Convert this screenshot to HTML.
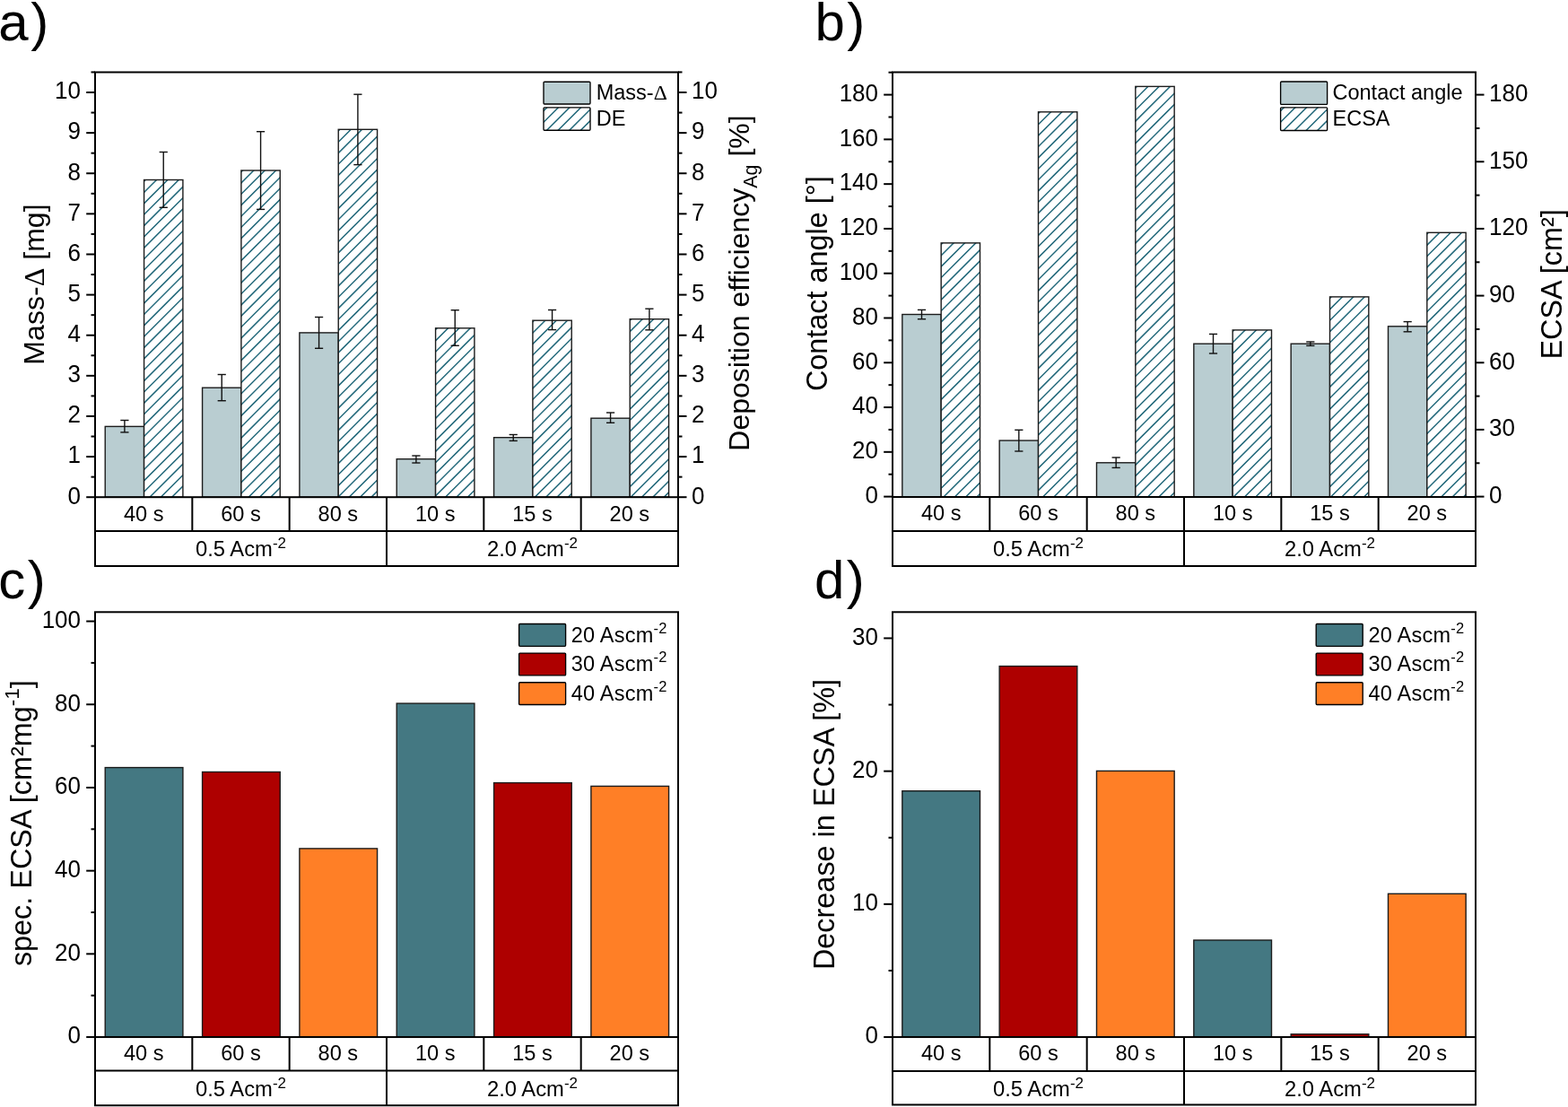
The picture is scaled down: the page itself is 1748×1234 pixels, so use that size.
<!DOCTYPE html>
<html><head><meta charset="utf-8"><title>Figure</title>
<style>
html,body{margin:0;padding:0;background:#fff;}
body{width:1748px;height:1234px;overflow:hidden;}
svg{display:block;}
text{font-family:"Liberation Sans",Arial,sans-serif;}
</style></head><body>
<svg width="1748" height="1234" viewBox="0 0 1748 1234" font-family="Liberation Sans, Arial, sans-serif" fill="#000">
<defs><clipPath id="c1"><rect x="160.57" y="200.5" width="43.33" height="353.7"/></clipPath><clipPath id="c2"><rect x="268.9" y="190" width="43.33" height="364.2"/></clipPath><clipPath id="c3"><rect x="377.23" y="144.3" width="43.33" height="409.9"/></clipPath><clipPath id="c4"><rect x="485.57" y="365.8" width="43.33" height="188.4"/></clipPath><clipPath id="c5"><rect x="593.9" y="357.2" width="43.33" height="197"/></clipPath><clipPath id="c6"><rect x="702.23" y="355.7" width="43.33" height="198.5"/></clipPath><clipPath id="c7"><rect x="1049.17" y="270.86" width="43.33" height="283.14"/></clipPath><clipPath id="c8"><rect x="1157.5" y="124.8" width="43.33" height="429.2"/></clipPath><clipPath id="c9"><rect x="1265.83" y="96.4" width="43.33" height="457.6"/></clipPath><clipPath id="c10"><rect x="1374.17" y="367.9" width="43.33" height="186.1"/></clipPath><clipPath id="c11"><rect x="1482.5" y="330.9" width="43.33" height="223.1"/></clipPath><clipPath id="c12"><rect x="1590.83" y="259.3" width="43.33" height="294.7"/></clipPath><clipPath id="c13"><rect x="606" y="119.9" width="52" height="25.3"/></clipPath><clipPath id="c14"><rect x="1427.6" y="119.8" width="52" height="25.7"/></clipPath></defs>
<rect width="1748" height="1234" fill="#fff"/>
<rect x="117.23" y="475.4" width="43.33" height="78.8" fill="#b9cdd1"/>
<rect x="117.23" y="475.4" width="43.33" height="78.8" fill="none" stroke="#1c1c1c" stroke-width="1.4"/>
<rect x="160.57" y="200.5" width="43.33" height="353.7" fill="#fff"/>
<path clip-path="url(#c1)" d="M-218.25 556.2L205.9 132.05M-205.89 556.2L205.9 144.41M-193.53 556.2L205.9 156.77M-181.17 556.2L205.9 169.13M-168.81 556.2L205.9 181.49M-156.45 556.2L205.9 193.85M-144.09 556.2L205.9 206.21M-131.73 556.2L205.9 218.57M-119.37 556.2L205.9 230.93M-107.01 556.2L205.9 243.29M-94.65 556.2L205.9 255.65M-82.29 556.2L205.9 268.01M-69.93 556.2L205.9 280.37M-57.57 556.2L205.9 292.73M-45.21 556.2L205.9 305.09M-32.85 556.2L205.9 317.45M-20.49 556.2L205.9 329.81M-8.13 556.2L205.9 342.17M4.23 556.2L205.9 354.53M16.59 556.2L205.9 366.89M28.95 556.2L205.9 379.25M41.31 556.2L205.9 391.61M53.67 556.2L205.9 403.97M66.03 556.2L205.9 416.33M78.39 556.2L205.9 428.69M90.75 556.2L205.9 441.05M103.11 556.2L205.9 453.41M115.47 556.2L205.9 465.77M127.83 556.2L205.9 478.13M140.19 556.2L205.9 490.49M152.55 556.2L205.9 502.85M164.91 556.2L205.9 515.21M177.27 556.2L205.9 527.57M189.63 556.2L205.9 539.93M201.99 556.2L205.9 552.29" stroke="#22687a" stroke-width="1.5" fill="none"/>
<rect x="160.57" y="200.5" width="43.33" height="353.7" fill="none" stroke="#1c1c1c" stroke-width="1.4"/>
<line x1="138.9" y1="468.5" x2="138.9" y2="481.9" stroke="#111" stroke-width="1.4" stroke-linecap="butt"/>
<line x1="134.3" y1="468.5" x2="143.5" y2="468.5" stroke="#111" stroke-width="1.4" stroke-linecap="butt"/>
<line x1="134.3" y1="481.9" x2="143.5" y2="481.9" stroke="#111" stroke-width="1.4" stroke-linecap="butt"/>
<line x1="182.23" y1="169.5" x2="182.23" y2="231.3" stroke="#111" stroke-width="1.4" stroke-linecap="butt"/>
<line x1="177.63" y1="169.5" x2="186.83" y2="169.5" stroke="#111" stroke-width="1.4" stroke-linecap="butt"/>
<line x1="177.63" y1="231.3" x2="186.83" y2="231.3" stroke="#111" stroke-width="1.4" stroke-linecap="butt"/>
<rect x="225.57" y="432.2" width="43.33" height="122" fill="#b9cdd1"/>
<rect x="225.57" y="432.2" width="43.33" height="122" fill="none" stroke="#1c1c1c" stroke-width="1.4"/>
<rect x="268.9" y="190" width="43.33" height="364.2" fill="#fff"/>
<path clip-path="url(#c2)" d="M-120.42 556.2L314.23 121.55M-108.06 556.2L314.23 133.91M-95.7 556.2L314.23 146.27M-83.34 556.2L314.23 158.63M-70.98 556.2L314.23 170.99M-58.62 556.2L314.23 183.35M-46.26 556.2L314.23 195.71M-33.9 556.2L314.23 208.07M-21.54 556.2L314.23 220.43M-9.18 556.2L314.23 232.79M3.18 556.2L314.23 245.15M15.54 556.2L314.23 257.51M27.9 556.2L314.23 269.87M40.26 556.2L314.23 282.23M52.62 556.2L314.23 294.59M64.98 556.2L314.23 306.95M77.34 556.2L314.23 319.31M89.7 556.2L314.23 331.67M102.06 556.2L314.23 344.03M114.42 556.2L314.23 356.39M126.78 556.2L314.23 368.75M139.14 556.2L314.23 381.11M151.5 556.2L314.23 393.47M163.86 556.2L314.23 405.83M176.22 556.2L314.23 418.19M188.58 556.2L314.23 430.55M200.94 556.2L314.23 442.91M213.3 556.2L314.23 455.27M225.66 556.2L314.23 467.63M238.02 556.2L314.23 479.99M250.38 556.2L314.23 492.35M262.74 556.2L314.23 504.71M275.1 556.2L314.23 517.07M287.46 556.2L314.23 529.43M299.82 556.2L314.23 541.79M312.18 556.2L314.23 554.15" stroke="#22687a" stroke-width="1.5" fill="none"/>
<rect x="268.9" y="190" width="43.33" height="364.2" fill="none" stroke="#1c1c1c" stroke-width="1.4"/>
<line x1="247.23" y1="417.5" x2="247.23" y2="446.7" stroke="#111" stroke-width="1.4" stroke-linecap="butt"/>
<line x1="242.63" y1="417.5" x2="251.83" y2="417.5" stroke="#111" stroke-width="1.4" stroke-linecap="butt"/>
<line x1="242.63" y1="446.7" x2="251.83" y2="446.7" stroke="#111" stroke-width="1.4" stroke-linecap="butt"/>
<line x1="290.57" y1="146.7" x2="290.57" y2="233.4" stroke="#111" stroke-width="1.4" stroke-linecap="butt"/>
<line x1="285.97" y1="146.7" x2="295.17" y2="146.7" stroke="#111" stroke-width="1.4" stroke-linecap="butt"/>
<line x1="285.97" y1="233.4" x2="295.17" y2="233.4" stroke="#111" stroke-width="1.4" stroke-linecap="butt"/>
<rect x="333.9" y="370.9" width="43.33" height="183.3" fill="#b9cdd1"/>
<rect x="333.9" y="370.9" width="43.33" height="183.3" fill="none" stroke="#1c1c1c" stroke-width="1.4"/>
<rect x="377.23" y="144.3" width="43.33" height="409.9" fill="#fff"/>
<path clip-path="url(#c3)" d="M-57.79 556.2L422.57 75.85M-45.43 556.2L422.57 88.21M-33.07 556.2L422.57 100.57M-20.71 556.2L422.57 112.93M-8.35 556.2L422.57 125.29M4.01 556.2L422.57 137.65M16.37 556.2L422.57 150.01M28.73 556.2L422.57 162.37M41.09 556.2L422.57 174.73M53.45 556.2L422.57 187.09M65.81 556.2L422.57 199.45M78.17 556.2L422.57 211.81M90.53 556.2L422.57 224.17M102.89 556.2L422.57 236.53M115.25 556.2L422.57 248.89M127.61 556.2L422.57 261.25M139.97 556.2L422.57 273.61M152.33 556.2L422.57 285.97M164.69 556.2L422.57 298.33M177.05 556.2L422.57 310.69M189.41 556.2L422.57 323.05M201.77 556.2L422.57 335.41M214.13 556.2L422.57 347.77M226.49 556.2L422.57 360.13M238.85 556.2L422.57 372.49M251.21 556.2L422.57 384.85M263.57 556.2L422.57 397.21M275.93 556.2L422.57 409.57M288.29 556.2L422.57 421.93M300.65 556.2L422.57 434.29M313.01 556.2L422.57 446.65M325.37 556.2L422.57 459.01M337.73 556.2L422.57 471.37M350.09 556.2L422.57 483.73M362.45 556.2L422.57 496.09M374.81 556.2L422.57 508.45M387.17 556.2L422.57 520.81M399.53 556.2L422.57 533.17M411.89 556.2L422.57 545.53M424.25 556.2L422.57 557.89" stroke="#22687a" stroke-width="1.5" fill="none"/>
<rect x="377.23" y="144.3" width="43.33" height="409.9" fill="none" stroke="#1c1c1c" stroke-width="1.4"/>
<line x1="355.57" y1="353.5" x2="355.57" y2="388.3" stroke="#111" stroke-width="1.4" stroke-linecap="butt"/>
<line x1="350.97" y1="353.5" x2="360.17" y2="353.5" stroke="#111" stroke-width="1.4" stroke-linecap="butt"/>
<line x1="350.97" y1="388.3" x2="360.17" y2="388.3" stroke="#111" stroke-width="1.4" stroke-linecap="butt"/>
<line x1="398.9" y1="105.2" x2="398.9" y2="183.6" stroke="#111" stroke-width="1.4" stroke-linecap="butt"/>
<line x1="394.3" y1="105.2" x2="403.5" y2="105.2" stroke="#111" stroke-width="1.4" stroke-linecap="butt"/>
<line x1="394.3" y1="183.6" x2="403.5" y2="183.6" stroke="#111" stroke-width="1.4" stroke-linecap="butt"/>
<rect x="442.23" y="511.7" width="43.33" height="42.5" fill="#b9cdd1"/>
<rect x="442.23" y="511.7" width="43.33" height="42.5" fill="none" stroke="#1c1c1c" stroke-width="1.4"/>
<rect x="485.57" y="365.8" width="43.33" height="188.4" fill="#fff"/>
<path clip-path="url(#c4)" d="M272.05 556.2L530.9 297.35M284.41 556.2L530.9 309.71M296.77 556.2L530.9 322.07M309.13 556.2L530.9 334.43M321.49 556.2L530.9 346.79M333.85 556.2L530.9 359.15M346.21 556.2L530.9 371.51M358.57 556.2L530.9 383.87M370.93 556.2L530.9 396.23M383.29 556.2L530.9 408.59M395.65 556.2L530.9 420.95M408.01 556.2L530.9 433.31M420.37 556.2L530.9 445.67M432.73 556.2L530.9 458.03M445.09 556.2L530.9 470.39M457.45 556.2L530.9 482.75M469.81 556.2L530.9 495.11M482.17 556.2L530.9 507.47M494.53 556.2L530.9 519.83M506.89 556.2L530.9 532.19M519.25 556.2L530.9 544.55M531.61 556.2L530.9 556.91" stroke="#22687a" stroke-width="1.5" fill="none"/>
<rect x="485.57" y="365.8" width="43.33" height="188.4" fill="none" stroke="#1c1c1c" stroke-width="1.4"/>
<line x1="463.9" y1="508" x2="463.9" y2="516" stroke="#111" stroke-width="1.4" stroke-linecap="butt"/>
<line x1="459.3" y1="508" x2="468.5" y2="508" stroke="#111" stroke-width="1.4" stroke-linecap="butt"/>
<line x1="459.3" y1="516" x2="468.5" y2="516" stroke="#111" stroke-width="1.4" stroke-linecap="butt"/>
<line x1="507.23" y1="345.7" x2="507.23" y2="385.3" stroke="#111" stroke-width="1.4" stroke-linecap="butt"/>
<line x1="502.63" y1="345.7" x2="511.83" y2="345.7" stroke="#111" stroke-width="1.4" stroke-linecap="butt"/>
<line x1="502.63" y1="385.3" x2="511.83" y2="385.3" stroke="#111" stroke-width="1.4" stroke-linecap="butt"/>
<rect x="550.57" y="487.7" width="43.33" height="66.5" fill="#b9cdd1"/>
<rect x="550.57" y="487.7" width="43.33" height="66.5" fill="none" stroke="#1c1c1c" stroke-width="1.4"/>
<rect x="593.9" y="357.2" width="43.33" height="197" fill="#fff"/>
<path clip-path="url(#c5)" d="M371.78 556.2L639.23 288.75M384.14 556.2L639.23 301.11M396.5 556.2L639.23 313.47M408.86 556.2L639.23 325.83M421.22 556.2L639.23 338.19M433.58 556.2L639.23 350.55M445.94 556.2L639.23 362.91M458.3 556.2L639.23 375.27M470.66 556.2L639.23 387.63M483.02 556.2L639.23 399.99M495.38 556.2L639.23 412.35M507.74 556.2L639.23 424.71M520.1 556.2L639.23 437.07M532.46 556.2L639.23 449.43M544.82 556.2L639.23 461.79M557.18 556.2L639.23 474.15M569.54 556.2L639.23 486.51M581.9 556.2L639.23 498.87M594.26 556.2L639.23 511.23M606.62 556.2L639.23 523.59M618.98 556.2L639.23 535.95M631.34 556.2L639.23 548.31M643.7 556.2L639.23 560.67" stroke="#22687a" stroke-width="1.5" fill="none"/>
<rect x="593.9" y="357.2" width="43.33" height="197" fill="none" stroke="#1c1c1c" stroke-width="1.4"/>
<line x1="572.23" y1="484.5" x2="572.23" y2="491.4" stroke="#111" stroke-width="1.4" stroke-linecap="butt"/>
<line x1="567.63" y1="484.5" x2="576.83" y2="484.5" stroke="#111" stroke-width="1.4" stroke-linecap="butt"/>
<line x1="567.63" y1="491.4" x2="576.83" y2="491.4" stroke="#111" stroke-width="1.4" stroke-linecap="butt"/>
<line x1="615.57" y1="345.5" x2="615.57" y2="367.6" stroke="#111" stroke-width="1.4" stroke-linecap="butt"/>
<line x1="610.97" y1="345.5" x2="620.17" y2="345.5" stroke="#111" stroke-width="1.4" stroke-linecap="butt"/>
<line x1="610.97" y1="367.6" x2="620.17" y2="367.6" stroke="#111" stroke-width="1.4" stroke-linecap="butt"/>
<rect x="658.9" y="466.2" width="43.33" height="88" fill="#b9cdd1"/>
<rect x="658.9" y="466.2" width="43.33" height="88" fill="none" stroke="#1c1c1c" stroke-width="1.4"/>
<rect x="702.23" y="355.7" width="43.33" height="198.5" fill="#fff"/>
<path clip-path="url(#c6)" d="M478.61 556.2L747.57 287.25M490.97 556.2L747.57 299.61M503.33 556.2L747.57 311.97M515.69 556.2L747.57 324.33M528.05 556.2L747.57 336.69M540.41 556.2L747.57 349.05M552.77 556.2L747.57 361.41M565.13 556.2L747.57 373.77M577.49 556.2L747.57 386.13M589.85 556.2L747.57 398.49M602.21 556.2L747.57 410.85M614.57 556.2L747.57 423.21M626.93 556.2L747.57 435.57M639.29 556.2L747.57 447.93M651.65 556.2L747.57 460.29M664.01 556.2L747.57 472.65M676.37 556.2L747.57 485.01M688.73 556.2L747.57 497.37M701.09 556.2L747.57 509.73M713.45 556.2L747.57 522.09M725.81 556.2L747.57 534.45M738.17 556.2L747.57 546.81M750.53 556.2L747.57 559.17" stroke="#22687a" stroke-width="1.5" fill="none"/>
<rect x="702.23" y="355.7" width="43.33" height="198.5" fill="none" stroke="#1c1c1c" stroke-width="1.4"/>
<line x1="680.57" y1="460" x2="680.57" y2="471.3" stroke="#111" stroke-width="1.4" stroke-linecap="butt"/>
<line x1="675.97" y1="460" x2="685.17" y2="460" stroke="#111" stroke-width="1.4" stroke-linecap="butt"/>
<line x1="675.97" y1="471.3" x2="685.17" y2="471.3" stroke="#111" stroke-width="1.4" stroke-linecap="butt"/>
<line x1="723.9" y1="344.2" x2="723.9" y2="367.8" stroke="#111" stroke-width="1.4" stroke-linecap="butt"/>
<line x1="719.3" y1="344.2" x2="728.5" y2="344.2" stroke="#111" stroke-width="1.4" stroke-linecap="butt"/>
<line x1="719.3" y1="367.8" x2="728.5" y2="367.8" stroke="#111" stroke-width="1.4" stroke-linecap="butt"/>
<rect x="1005.83" y="350.5" width="43.33" height="203.5" fill="#b9cdd1"/>
<rect x="1005.83" y="350.5" width="43.33" height="203.5" fill="none" stroke="#1c1c1c" stroke-width="1.4"/>
<rect x="1049.17" y="270.86" width="43.33" height="283.14" fill="#fff"/>
<path clip-path="url(#c7)" d="M740.91 556L1094.5 202.41M753.27 556L1094.5 214.77M765.63 556L1094.5 227.13M777.99 556L1094.5 239.49M790.35 556L1094.5 251.85M802.71 556L1094.5 264.21M815.07 556L1094.5 276.57M827.43 556L1094.5 288.93M839.79 556L1094.5 301.29M852.15 556L1094.5 313.65M864.51 556L1094.5 326.01M876.87 556L1094.5 338.37M889.23 556L1094.5 350.73M901.59 556L1094.5 363.09M913.95 556L1094.5 375.45M926.31 556L1094.5 387.81M938.67 556L1094.5 400.17M951.03 556L1094.5 412.53M963.39 556L1094.5 424.89M975.75 556L1094.5 437.25M988.11 556L1094.5 449.61M1000.47 556L1094.5 461.97M1012.83 556L1094.5 474.33M1025.19 556L1094.5 486.69M1037.55 556L1094.5 499.05M1049.91 556L1094.5 511.41M1062.27 556L1094.5 523.77M1074.63 556L1094.5 536.13M1086.99 556L1094.5 548.49M1099.35 556L1094.5 560.85" stroke="#22687a" stroke-width="1.5" fill="none"/>
<rect x="1049.17" y="270.86" width="43.33" height="283.14" fill="none" stroke="#1c1c1c" stroke-width="1.4"/>
<line x1="1027.5" y1="345.4" x2="1027.5" y2="355.7" stroke="#111" stroke-width="1.4" stroke-linecap="butt"/>
<line x1="1022.9" y1="345.4" x2="1032.1" y2="345.4" stroke="#111" stroke-width="1.4" stroke-linecap="butt"/>
<line x1="1022.9" y1="355.7" x2="1032.1" y2="355.7" stroke="#111" stroke-width="1.4" stroke-linecap="butt"/>
<rect x="1114.17" y="491.05" width="43.33" height="62.95" fill="#b9cdd1"/>
<rect x="1114.17" y="491.05" width="43.33" height="62.95" fill="none" stroke="#1c1c1c" stroke-width="1.4"/>
<rect x="1157.5" y="124.8" width="43.33" height="429.2" fill="#fff"/>
<path clip-path="url(#c8)" d="M703.18 556L1202.83 56.35M715.54 556L1202.83 68.71M727.9 556L1202.83 81.07M740.26 556L1202.83 93.43M752.62 556L1202.83 105.79M764.98 556L1202.83 118.15M777.34 556L1202.83 130.51M789.7 556L1202.83 142.87M802.06 556L1202.83 155.23M814.42 556L1202.83 167.59M826.78 556L1202.83 179.95M839.14 556L1202.83 192.31M851.5 556L1202.83 204.67M863.86 556L1202.83 217.03M876.22 556L1202.83 229.39M888.58 556L1202.83 241.75M900.94 556L1202.83 254.11M913.3 556L1202.83 266.47M925.66 556L1202.83 278.83M938.02 556L1202.83 291.19M950.38 556L1202.83 303.55M962.74 556L1202.83 315.91M975.1 556L1202.83 328.27M987.46 556L1202.83 340.63M999.82 556L1202.83 352.99M1012.18 556L1202.83 365.35M1024.54 556L1202.83 377.71M1036.9 556L1202.83 390.07M1049.26 556L1202.83 402.43M1061.62 556L1202.83 414.79M1073.98 556L1202.83 427.15M1086.34 556L1202.83 439.51M1098.7 556L1202.83 451.87M1111.06 556L1202.83 464.23M1123.42 556L1202.83 476.59M1135.78 556L1202.83 488.95M1148.14 556L1202.83 501.31M1160.5 556L1202.83 513.67M1172.86 556L1202.83 526.03M1185.22 556L1202.83 538.39M1197.58 556L1202.83 550.75M1209.94 556L1202.83 563.11" stroke="#22687a" stroke-width="1.5" fill="none"/>
<rect x="1157.5" y="124.8" width="43.33" height="429.2" fill="none" stroke="#1c1c1c" stroke-width="1.4"/>
<line x1="1135.83" y1="479.3" x2="1135.83" y2="503" stroke="#111" stroke-width="1.4" stroke-linecap="butt"/>
<line x1="1131.23" y1="479.3" x2="1140.43" y2="479.3" stroke="#111" stroke-width="1.4" stroke-linecap="butt"/>
<line x1="1131.23" y1="503" x2="1140.43" y2="503" stroke="#111" stroke-width="1.4" stroke-linecap="butt"/>
<rect x="1222.5" y="515.8" width="43.33" height="38.2" fill="#b9cdd1"/>
<rect x="1222.5" y="515.8" width="43.33" height="38.2" fill="none" stroke="#1c1c1c" stroke-width="1.4"/>
<rect x="1265.83" y="96.4" width="43.33" height="457.6" fill="#fff"/>
<path clip-path="url(#c9)" d="M783.11 556L1311.17 27.95M795.47 556L1311.17 40.31M807.83 556L1311.17 52.67M820.19 556L1311.17 65.03M832.55 556L1311.17 77.39M844.91 556L1311.17 89.75M857.27 556L1311.17 102.11M869.63 556L1311.17 114.47M881.99 556L1311.17 126.83M894.35 556L1311.17 139.19M906.71 556L1311.17 151.55M919.07 556L1311.17 163.91M931.43 556L1311.17 176.27M943.79 556L1311.17 188.63M956.15 556L1311.17 200.99M968.51 556L1311.17 213.35M980.87 556L1311.17 225.71M993.23 556L1311.17 238.07M1005.59 556L1311.17 250.43M1017.95 556L1311.17 262.79M1030.31 556L1311.17 275.15M1042.67 556L1311.17 287.51M1055.03 556L1311.17 299.87M1067.39 556L1311.17 312.23M1079.75 556L1311.17 324.59M1092.11 556L1311.17 336.95M1104.47 556L1311.17 349.31M1116.83 556L1311.17 361.67M1129.19 556L1311.17 374.03M1141.55 556L1311.17 386.39M1153.91 556L1311.17 398.75M1166.27 556L1311.17 411.11M1178.63 556L1311.17 423.47M1190.99 556L1311.17 435.83M1203.35 556L1311.17 448.19M1215.71 556L1311.17 460.55M1228.07 556L1311.17 472.91M1240.43 556L1311.17 485.27M1252.79 556L1311.17 497.63M1265.15 556L1311.17 509.99M1277.51 556L1311.17 522.35M1289.87 556L1311.17 534.71M1302.23 556L1311.17 547.07M1314.59 556L1311.17 559.43" stroke="#22687a" stroke-width="1.5" fill="none"/>
<rect x="1265.83" y="96.4" width="43.33" height="457.6" fill="none" stroke="#1c1c1c" stroke-width="1.4"/>
<line x1="1244.17" y1="510" x2="1244.17" y2="521.4" stroke="#111" stroke-width="1.4" stroke-linecap="butt"/>
<line x1="1239.57" y1="510" x2="1248.77" y2="510" stroke="#111" stroke-width="1.4" stroke-linecap="butt"/>
<line x1="1239.57" y1="521.4" x2="1248.77" y2="521.4" stroke="#111" stroke-width="1.4" stroke-linecap="butt"/>
<rect x="1330.83" y="383.2" width="43.33" height="170.8" fill="#b9cdd1"/>
<rect x="1330.83" y="383.2" width="43.33" height="170.8" fill="none" stroke="#1c1c1c" stroke-width="1.4"/>
<rect x="1374.17" y="367.9" width="43.33" height="186.1" fill="#fff"/>
<path clip-path="url(#c10)" d="M1162.95 556L1419.5 299.45M1175.31 556L1419.5 311.81M1187.67 556L1419.5 324.17M1200.03 556L1419.5 336.53M1212.39 556L1419.5 348.89M1224.75 556L1419.5 361.25M1237.11 556L1419.5 373.61M1249.47 556L1419.5 385.97M1261.83 556L1419.5 398.33M1274.19 556L1419.5 410.69M1286.55 556L1419.5 423.05M1298.91 556L1419.5 435.41M1311.27 556L1419.5 447.77M1323.63 556L1419.5 460.13M1335.99 556L1419.5 472.49M1348.35 556L1419.5 484.85M1360.71 556L1419.5 497.21M1373.07 556L1419.5 509.57M1385.43 556L1419.5 521.93M1397.79 556L1419.5 534.29M1410.15 556L1419.5 546.65M1422.51 556L1419.5 559.01" stroke="#22687a" stroke-width="1.5" fill="none"/>
<rect x="1374.17" y="367.9" width="43.33" height="186.1" fill="none" stroke="#1c1c1c" stroke-width="1.4"/>
<line x1="1352.5" y1="372.4" x2="1352.5" y2="394" stroke="#111" stroke-width="1.4" stroke-linecap="butt"/>
<line x1="1347.9" y1="372.4" x2="1357.1" y2="372.4" stroke="#111" stroke-width="1.4" stroke-linecap="butt"/>
<line x1="1347.9" y1="394" x2="1357.1" y2="394" stroke="#111" stroke-width="1.4" stroke-linecap="butt"/>
<rect x="1439.17" y="383.2" width="43.33" height="170.8" fill="#b9cdd1"/>
<rect x="1439.17" y="383.2" width="43.33" height="170.8" fill="none" stroke="#1c1c1c" stroke-width="1.4"/>
<rect x="1482.5" y="330.9" width="43.33" height="223.1" fill="#fff"/>
<path clip-path="url(#c11)" d="M1234.28 556L1527.83 262.45M1246.64 556L1527.83 274.81M1259 556L1527.83 287.17M1271.36 556L1527.83 299.53M1283.72 556L1527.83 311.89M1296.08 556L1527.83 324.25M1308.44 556L1527.83 336.61M1320.8 556L1527.83 348.97M1333.16 556L1527.83 361.33M1345.52 556L1527.83 373.69M1357.88 556L1527.83 386.05M1370.24 556L1527.83 398.41M1382.6 556L1527.83 410.77M1394.96 556L1527.83 423.13M1407.32 556L1527.83 435.49M1419.68 556L1527.83 447.85M1432.04 556L1527.83 460.21M1444.4 556L1527.83 472.57M1456.76 556L1527.83 484.93M1469.12 556L1527.83 497.29M1481.48 556L1527.83 509.65M1493.84 556L1527.83 522.01M1506.2 556L1527.83 534.37M1518.56 556L1527.83 546.73M1530.92 556L1527.83 559.09" stroke="#22687a" stroke-width="1.5" fill="none"/>
<rect x="1482.5" y="330.9" width="43.33" height="223.1" fill="none" stroke="#1c1c1c" stroke-width="1.4"/>
<line x1="1460.83" y1="381" x2="1460.83" y2="385.4" stroke="#111" stroke-width="1.4" stroke-linecap="butt"/>
<line x1="1456.23" y1="381" x2="1465.43" y2="381" stroke="#111" stroke-width="1.4" stroke-linecap="butt"/>
<line x1="1456.23" y1="385.4" x2="1465.43" y2="385.4" stroke="#111" stroke-width="1.4" stroke-linecap="butt"/>
<rect x="1547.5" y="363.8" width="43.33" height="190.2" fill="#b9cdd1"/>
<rect x="1547.5" y="363.8" width="43.33" height="190.2" fill="none" stroke="#1c1c1c" stroke-width="1.4"/>
<rect x="1590.83" y="259.3" width="43.33" height="294.7" fill="#fff"/>
<path clip-path="url(#c12)" d="M1271.01 556L1636.17 190.85M1283.37 556L1636.17 203.21M1295.73 556L1636.17 215.57M1308.09 556L1636.17 227.93M1320.45 556L1636.17 240.29M1332.81 556L1636.17 252.65M1345.17 556L1636.17 265.01M1357.53 556L1636.17 277.37M1369.89 556L1636.17 289.73M1382.25 556L1636.17 302.09M1394.61 556L1636.17 314.45M1406.97 556L1636.17 326.81M1419.33 556L1636.17 339.17M1431.69 556L1636.17 351.53M1444.05 556L1636.17 363.89M1456.41 556L1636.17 376.25M1468.77 556L1636.17 388.61M1481.13 556L1636.17 400.97M1493.49 556L1636.17 413.33M1505.85 556L1636.17 425.69M1518.21 556L1636.17 438.05M1530.57 556L1636.17 450.41M1542.93 556L1636.17 462.77M1555.29 556L1636.17 475.13M1567.65 556L1636.17 487.49M1580.01 556L1636.17 499.85M1592.37 556L1636.17 512.21M1604.73 556L1636.17 524.57M1617.09 556L1636.17 536.93M1629.45 556L1636.17 549.29M1641.81 556L1636.17 561.65" stroke="#22687a" stroke-width="1.5" fill="none"/>
<rect x="1590.83" y="259.3" width="43.33" height="294.7" fill="none" stroke="#1c1c1c" stroke-width="1.4"/>
<line x1="1569.17" y1="358.6" x2="1569.17" y2="369.8" stroke="#111" stroke-width="1.4" stroke-linecap="butt"/>
<line x1="1564.57" y1="358.6" x2="1573.77" y2="358.6" stroke="#111" stroke-width="1.4" stroke-linecap="butt"/>
<line x1="1564.57" y1="369.8" x2="1573.77" y2="369.8" stroke="#111" stroke-width="1.4" stroke-linecap="butt"/>
<rect x="117.23" y="855.6" width="86.67" height="300.45" fill="#447882"/>
<rect x="117.23" y="855.6" width="86.67" height="300.45" fill="none" stroke="#1c1c1c" stroke-width="1.4"/>
<rect x="225.57" y="860.5" width="86.67" height="295.55" fill="#ae0000"/>
<rect x="225.57" y="860.5" width="86.67" height="295.55" fill="none" stroke="#1c1c1c" stroke-width="1.4"/>
<rect x="333.9" y="945.9" width="86.67" height="210.15" fill="#ff7f26"/>
<rect x="333.9" y="945.9" width="86.67" height="210.15" fill="none" stroke="#1c1c1c" stroke-width="1.4"/>
<rect x="442.23" y="784.1" width="86.67" height="371.95" fill="#447882"/>
<rect x="442.23" y="784.1" width="86.67" height="371.95" fill="none" stroke="#1c1c1c" stroke-width="1.4"/>
<rect x="550.57" y="872.6" width="86.67" height="283.45" fill="#ae0000"/>
<rect x="550.57" y="872.6" width="86.67" height="283.45" fill="none" stroke="#1c1c1c" stroke-width="1.4"/>
<rect x="658.9" y="876.4" width="86.67" height="279.65" fill="#ff7f26"/>
<rect x="658.9" y="876.4" width="86.67" height="279.65" fill="none" stroke="#1c1c1c" stroke-width="1.4"/>
<rect x="1005.83" y="881.7" width="86.67" height="274.35" fill="#447882"/>
<rect x="1005.83" y="881.7" width="86.67" height="274.35" fill="none" stroke="#1c1c1c" stroke-width="1.4"/>
<rect x="1114.17" y="742.6" width="86.67" height="413.45" fill="#ae0000"/>
<rect x="1114.17" y="742.6" width="86.67" height="413.45" fill="none" stroke="#1c1c1c" stroke-width="1.4"/>
<rect x="1222.5" y="859.4" width="86.67" height="296.65" fill="#ff7f26"/>
<rect x="1222.5" y="859.4" width="86.67" height="296.65" fill="none" stroke="#1c1c1c" stroke-width="1.4"/>
<rect x="1330.83" y="1048" width="86.67" height="108.05" fill="#447882"/>
<rect x="1330.83" y="1048" width="86.67" height="108.05" fill="none" stroke="#1c1c1c" stroke-width="1.4"/>
<rect x="1439.17" y="1152.8" width="86.67" height="3.25" fill="#ae0000"/>
<rect x="1439.17" y="1152.8" width="86.67" height="3.25" fill="none" stroke="#1c1c1c" stroke-width="1.4"/>
<rect x="1547.5" y="996.3" width="86.67" height="159.75" fill="#ff7f26"/>
<rect x="1547.5" y="996.3" width="86.67" height="159.75" fill="none" stroke="#1c1c1c" stroke-width="1.4"/>
<rect x="106" y="80.5" width="650" height="473.7" fill="none" stroke="#000" stroke-width="2"/>
<line x1="106" y1="554.2" x2="106" y2="631" stroke="#000" stroke-width="2" stroke-linecap="butt"/>
<line x1="756" y1="554.2" x2="756" y2="631" stroke="#000" stroke-width="2" stroke-linecap="butt"/>
<line x1="105" y1="592" x2="757" y2="592" stroke="#000" stroke-width="2" stroke-linecap="butt"/>
<line x1="105" y1="631" x2="757" y2="631" stroke="#000" stroke-width="2" stroke-linecap="butt"/>
<line x1="214.33" y1="554.2" x2="214.33" y2="592" stroke="#000" stroke-width="2" stroke-linecap="butt"/>
<line x1="322.67" y1="554.2" x2="322.67" y2="592" stroke="#000" stroke-width="2" stroke-linecap="butt"/>
<line x1="431" y1="554.2" x2="431" y2="631" stroke="#000" stroke-width="2" stroke-linecap="butt"/>
<line x1="539.33" y1="554.2" x2="539.33" y2="592" stroke="#000" stroke-width="2" stroke-linecap="butt"/>
<line x1="647.67" y1="554.2" x2="647.67" y2="592" stroke="#000" stroke-width="2" stroke-linecap="butt"/>
<text transform="translate(160.17 580.5) scale(1 1.03)" font-size="23.6" text-anchor="middle">40 s</text>
<text transform="translate(268.5 580.5) scale(1 1.03)" font-size="23.6" text-anchor="middle">60 s</text>
<text transform="translate(376.83 580.5) scale(1 1.03)" font-size="23.6" text-anchor="middle">80 s</text>
<text transform="translate(485.17 580.5) scale(1 1.03)" font-size="23.6" text-anchor="middle">10 s</text>
<text transform="translate(593.5 580.5) scale(1 1.03)" font-size="23.6" text-anchor="middle">15 s</text>
<text transform="translate(701.83 580.5) scale(1 1.03)" font-size="23.6" text-anchor="middle">20 s</text>
<text transform="translate(268.5 620.3) scale(1 1.02)" font-size="23.8" text-anchor="middle">0.5 Acm<tspan font-size="17.0" dy="-9">-2</tspan></text>
<text transform="translate(593.5 620.3) scale(1 1.02)" font-size="23.8" text-anchor="middle">2.0 Acm<tspan font-size="17.0" dy="-9">-2</tspan></text>
<line x1="96.2" y1="554.2" x2="106" y2="554.2" stroke="#000" stroke-width="2" stroke-linecap="butt"/>
<text transform="translate(90 561.5) scale(1 1.07)" font-size="26" text-anchor="end">0</text>
<line x1="96.2" y1="509.08" x2="106" y2="509.08" stroke="#000" stroke-width="2" stroke-linecap="butt"/>
<text transform="translate(90 516.38) scale(1 1.07)" font-size="26" text-anchor="end">1</text>
<line x1="96.2" y1="463.96" x2="106" y2="463.96" stroke="#000" stroke-width="2" stroke-linecap="butt"/>
<text transform="translate(90 471.26) scale(1 1.07)" font-size="26" text-anchor="end">2</text>
<line x1="96.2" y1="418.84" x2="106" y2="418.84" stroke="#000" stroke-width="2" stroke-linecap="butt"/>
<text transform="translate(90 426.14) scale(1 1.07)" font-size="26" text-anchor="end">3</text>
<line x1="96.2" y1="373.72" x2="106" y2="373.72" stroke="#000" stroke-width="2" stroke-linecap="butt"/>
<text transform="translate(90 381.02) scale(1 1.07)" font-size="26" text-anchor="end">4</text>
<line x1="96.2" y1="328.6" x2="106" y2="328.6" stroke="#000" stroke-width="2" stroke-linecap="butt"/>
<text transform="translate(90 335.9) scale(1 1.07)" font-size="26" text-anchor="end">5</text>
<line x1="96.2" y1="283.48" x2="106" y2="283.48" stroke="#000" stroke-width="2" stroke-linecap="butt"/>
<text transform="translate(90 290.78) scale(1 1.07)" font-size="26" text-anchor="end">6</text>
<line x1="96.2" y1="238.36" x2="106" y2="238.36" stroke="#000" stroke-width="2" stroke-linecap="butt"/>
<text transform="translate(90 245.66) scale(1 1.07)" font-size="26" text-anchor="end">7</text>
<line x1="96.2" y1="193.24" x2="106" y2="193.24" stroke="#000" stroke-width="2" stroke-linecap="butt"/>
<text transform="translate(90 200.54) scale(1 1.07)" font-size="26" text-anchor="end">8</text>
<line x1="96.2" y1="148.12" x2="106" y2="148.12" stroke="#000" stroke-width="2" stroke-linecap="butt"/>
<text transform="translate(90 155.42) scale(1 1.07)" font-size="26" text-anchor="end">9</text>
<line x1="96.2" y1="103" x2="106" y2="103" stroke="#000" stroke-width="2" stroke-linecap="butt"/>
<text transform="translate(90 110.3) scale(1 1.07)" font-size="26" text-anchor="end">10</text>
<line x1="101.5" y1="531.64" x2="106" y2="531.64" stroke="#000" stroke-width="2" stroke-linecap="butt"/>
<line x1="101.5" y1="486.52" x2="106" y2="486.52" stroke="#000" stroke-width="2" stroke-linecap="butt"/>
<line x1="101.5" y1="441.4" x2="106" y2="441.4" stroke="#000" stroke-width="2" stroke-linecap="butt"/>
<line x1="101.5" y1="396.28" x2="106" y2="396.28" stroke="#000" stroke-width="2" stroke-linecap="butt"/>
<line x1="101.5" y1="351.16" x2="106" y2="351.16" stroke="#000" stroke-width="2" stroke-linecap="butt"/>
<line x1="101.5" y1="306.04" x2="106" y2="306.04" stroke="#000" stroke-width="2" stroke-linecap="butt"/>
<line x1="101.5" y1="260.92" x2="106" y2="260.92" stroke="#000" stroke-width="2" stroke-linecap="butt"/>
<line x1="101.5" y1="215.8" x2="106" y2="215.8" stroke="#000" stroke-width="2" stroke-linecap="butt"/>
<line x1="101.5" y1="170.68" x2="106" y2="170.68" stroke="#000" stroke-width="2" stroke-linecap="butt"/>
<line x1="101.5" y1="125.56" x2="106" y2="125.56" stroke="#000" stroke-width="2" stroke-linecap="butt"/>
<line x1="101.5" y1="80.44" x2="106" y2="80.44" stroke="#000" stroke-width="2" stroke-linecap="butt"/>
<line x1="756" y1="554.2" x2="765.5" y2="554.2" stroke="#000" stroke-width="2" stroke-linecap="butt"/>
<text transform="translate(771 561.5) scale(1 1.07)" font-size="26" text-anchor="start">0</text>
<line x1="756" y1="509.08" x2="765.5" y2="509.08" stroke="#000" stroke-width="2" stroke-linecap="butt"/>
<text transform="translate(771 516.38) scale(1 1.07)" font-size="26" text-anchor="start">1</text>
<line x1="756" y1="463.96" x2="765.5" y2="463.96" stroke="#000" stroke-width="2" stroke-linecap="butt"/>
<text transform="translate(771 471.26) scale(1 1.07)" font-size="26" text-anchor="start">2</text>
<line x1="756" y1="418.84" x2="765.5" y2="418.84" stroke="#000" stroke-width="2" stroke-linecap="butt"/>
<text transform="translate(771 426.14) scale(1 1.07)" font-size="26" text-anchor="start">3</text>
<line x1="756" y1="373.72" x2="765.5" y2="373.72" stroke="#000" stroke-width="2" stroke-linecap="butt"/>
<text transform="translate(771 381.02) scale(1 1.07)" font-size="26" text-anchor="start">4</text>
<line x1="756" y1="328.6" x2="765.5" y2="328.6" stroke="#000" stroke-width="2" stroke-linecap="butt"/>
<text transform="translate(771 335.9) scale(1 1.07)" font-size="26" text-anchor="start">5</text>
<line x1="756" y1="283.48" x2="765.5" y2="283.48" stroke="#000" stroke-width="2" stroke-linecap="butt"/>
<text transform="translate(771 290.78) scale(1 1.07)" font-size="26" text-anchor="start">6</text>
<line x1="756" y1="238.36" x2="765.5" y2="238.36" stroke="#000" stroke-width="2" stroke-linecap="butt"/>
<text transform="translate(771 245.66) scale(1 1.07)" font-size="26" text-anchor="start">7</text>
<line x1="756" y1="193.24" x2="765.5" y2="193.24" stroke="#000" stroke-width="2" stroke-linecap="butt"/>
<text transform="translate(771 200.54) scale(1 1.07)" font-size="26" text-anchor="start">8</text>
<line x1="756" y1="148.12" x2="765.5" y2="148.12" stroke="#000" stroke-width="2" stroke-linecap="butt"/>
<text transform="translate(771 155.42) scale(1 1.07)" font-size="26" text-anchor="start">9</text>
<line x1="756" y1="103" x2="765.5" y2="103" stroke="#000" stroke-width="2" stroke-linecap="butt"/>
<text transform="translate(771 110.3) scale(1 1.07)" font-size="26" text-anchor="start">10</text>
<line x1="756" y1="531.64" x2="760.5" y2="531.64" stroke="#000" stroke-width="2" stroke-linecap="butt"/>
<line x1="756" y1="486.52" x2="760.5" y2="486.52" stroke="#000" stroke-width="2" stroke-linecap="butt"/>
<line x1="756" y1="441.4" x2="760.5" y2="441.4" stroke="#000" stroke-width="2" stroke-linecap="butt"/>
<line x1="756" y1="396.28" x2="760.5" y2="396.28" stroke="#000" stroke-width="2" stroke-linecap="butt"/>
<line x1="756" y1="351.16" x2="760.5" y2="351.16" stroke="#000" stroke-width="2" stroke-linecap="butt"/>
<line x1="756" y1="306.04" x2="760.5" y2="306.04" stroke="#000" stroke-width="2" stroke-linecap="butt"/>
<line x1="756" y1="260.92" x2="760.5" y2="260.92" stroke="#000" stroke-width="2" stroke-linecap="butt"/>
<line x1="756" y1="215.8" x2="760.5" y2="215.8" stroke="#000" stroke-width="2" stroke-linecap="butt"/>
<line x1="756" y1="170.68" x2="760.5" y2="170.68" stroke="#000" stroke-width="2" stroke-linecap="butt"/>
<line x1="756" y1="125.56" x2="760.5" y2="125.56" stroke="#000" stroke-width="2" stroke-linecap="butt"/>
<line x1="756" y1="80.44" x2="760.5" y2="80.44" stroke="#000" stroke-width="2" stroke-linecap="butt"/>
<rect x="995" y="80.5" width="650" height="473.5" fill="none" stroke="#000" stroke-width="2"/>
<line x1="995" y1="554" x2="995" y2="631" stroke="#000" stroke-width="2" stroke-linecap="butt"/>
<line x1="1645" y1="554" x2="1645" y2="631" stroke="#000" stroke-width="2" stroke-linecap="butt"/>
<line x1="994" y1="592" x2="1646" y2="592" stroke="#000" stroke-width="2" stroke-linecap="butt"/>
<line x1="994" y1="631" x2="1646" y2="631" stroke="#000" stroke-width="2" stroke-linecap="butt"/>
<line x1="1103.33" y1="554" x2="1103.33" y2="592" stroke="#000" stroke-width="2" stroke-linecap="butt"/>
<line x1="1211.67" y1="554" x2="1211.67" y2="592" stroke="#000" stroke-width="2" stroke-linecap="butt"/>
<line x1="1320" y1="554" x2="1320" y2="631" stroke="#000" stroke-width="2" stroke-linecap="butt"/>
<line x1="1428.33" y1="554" x2="1428.33" y2="592" stroke="#000" stroke-width="2" stroke-linecap="butt"/>
<line x1="1536.67" y1="554" x2="1536.67" y2="592" stroke="#000" stroke-width="2" stroke-linecap="butt"/>
<text transform="translate(1049.17 580.3) scale(1 1.03)" font-size="23.6" text-anchor="middle">40 s</text>
<text transform="translate(1157.5 580.3) scale(1 1.03)" font-size="23.6" text-anchor="middle">60 s</text>
<text transform="translate(1265.83 580.3) scale(1 1.03)" font-size="23.6" text-anchor="middle">80 s</text>
<text transform="translate(1374.17 580.3) scale(1 1.03)" font-size="23.6" text-anchor="middle">10 s</text>
<text transform="translate(1482.5 580.3) scale(1 1.03)" font-size="23.6" text-anchor="middle">15 s</text>
<text transform="translate(1590.83 580.3) scale(1 1.03)" font-size="23.6" text-anchor="middle">20 s</text>
<text transform="translate(1157.5 620.3) scale(1 1.02)" font-size="23.8" text-anchor="middle">0.5 Acm<tspan font-size="17.0" dy="-9">-2</tspan></text>
<text transform="translate(1482.5 620.3) scale(1 1.02)" font-size="23.8" text-anchor="middle">2.0 Acm<tspan font-size="17.0" dy="-9">-2</tspan></text>
<line x1="985.2" y1="553.6" x2="995" y2="553.6" stroke="#000" stroke-width="2" stroke-linecap="butt"/>
<text transform="translate(979 560.9) scale(1 1.07)" font-size="26" text-anchor="end">0</text>
<line x1="985.2" y1="503.82" x2="995" y2="503.82" stroke="#000" stroke-width="2" stroke-linecap="butt"/>
<text transform="translate(979 511.12) scale(1 1.07)" font-size="26" text-anchor="end">20</text>
<line x1="985.2" y1="454.04" x2="995" y2="454.04" stroke="#000" stroke-width="2" stroke-linecap="butt"/>
<text transform="translate(979 461.34) scale(1 1.07)" font-size="26" text-anchor="end">40</text>
<line x1="985.2" y1="404.27" x2="995" y2="404.27" stroke="#000" stroke-width="2" stroke-linecap="butt"/>
<text transform="translate(979 411.57) scale(1 1.07)" font-size="26" text-anchor="end">60</text>
<line x1="985.2" y1="354.49" x2="995" y2="354.49" stroke="#000" stroke-width="2" stroke-linecap="butt"/>
<text transform="translate(979 361.79) scale(1 1.07)" font-size="26" text-anchor="end">80</text>
<line x1="985.2" y1="304.71" x2="995" y2="304.71" stroke="#000" stroke-width="2" stroke-linecap="butt"/>
<text transform="translate(979 312.01) scale(1 1.07)" font-size="26" text-anchor="end">100</text>
<line x1="985.2" y1="254.93" x2="995" y2="254.93" stroke="#000" stroke-width="2" stroke-linecap="butt"/>
<text transform="translate(979 262.23) scale(1 1.07)" font-size="26" text-anchor="end">120</text>
<line x1="985.2" y1="205.15" x2="995" y2="205.15" stroke="#000" stroke-width="2" stroke-linecap="butt"/>
<text transform="translate(979 212.45) scale(1 1.07)" font-size="26" text-anchor="end">140</text>
<line x1="985.2" y1="155.38" x2="995" y2="155.38" stroke="#000" stroke-width="2" stroke-linecap="butt"/>
<text transform="translate(979 162.68) scale(1 1.07)" font-size="26" text-anchor="end">160</text>
<line x1="985.2" y1="105.6" x2="995" y2="105.6" stroke="#000" stroke-width="2" stroke-linecap="butt"/>
<text transform="translate(979 112.9) scale(1 1.07)" font-size="26" text-anchor="end">180</text>
<line x1="990.5" y1="528.71" x2="995" y2="528.71" stroke="#000" stroke-width="2" stroke-linecap="butt"/>
<line x1="990.5" y1="478.93" x2="995" y2="478.93" stroke="#000" stroke-width="2" stroke-linecap="butt"/>
<line x1="990.5" y1="429.16" x2="995" y2="429.16" stroke="#000" stroke-width="2" stroke-linecap="butt"/>
<line x1="990.5" y1="379.38" x2="995" y2="379.38" stroke="#000" stroke-width="2" stroke-linecap="butt"/>
<line x1="990.5" y1="329.6" x2="995" y2="329.6" stroke="#000" stroke-width="2" stroke-linecap="butt"/>
<line x1="990.5" y1="279.82" x2="995" y2="279.82" stroke="#000" stroke-width="2" stroke-linecap="butt"/>
<line x1="990.5" y1="230.04" x2="995" y2="230.04" stroke="#000" stroke-width="2" stroke-linecap="butt"/>
<line x1="990.5" y1="180.26" x2="995" y2="180.26" stroke="#000" stroke-width="2" stroke-linecap="butt"/>
<line x1="990.5" y1="130.49" x2="995" y2="130.49" stroke="#000" stroke-width="2" stroke-linecap="butt"/>
<line x1="990.5" y1="80.71" x2="995" y2="80.71" stroke="#000" stroke-width="2" stroke-linecap="butt"/>
<line x1="1645" y1="553.6" x2="1654.5" y2="553.6" stroke="#000" stroke-width="2" stroke-linecap="butt"/>
<text transform="translate(1660 560.9) scale(1 1.07)" font-size="26" text-anchor="start">0</text>
<line x1="1645" y1="478.93" x2="1654.5" y2="478.93" stroke="#000" stroke-width="2" stroke-linecap="butt"/>
<text transform="translate(1660 486.23) scale(1 1.07)" font-size="26" text-anchor="start">30</text>
<line x1="1645" y1="404.27" x2="1654.5" y2="404.27" stroke="#000" stroke-width="2" stroke-linecap="butt"/>
<text transform="translate(1660 411.57) scale(1 1.07)" font-size="26" text-anchor="start">60</text>
<line x1="1645" y1="329.6" x2="1654.5" y2="329.6" stroke="#000" stroke-width="2" stroke-linecap="butt"/>
<text transform="translate(1660 336.9) scale(1 1.07)" font-size="26" text-anchor="start">90</text>
<line x1="1645" y1="254.93" x2="1654.5" y2="254.93" stroke="#000" stroke-width="2" stroke-linecap="butt"/>
<text transform="translate(1660 262.23) scale(1 1.07)" font-size="26" text-anchor="start">120</text>
<line x1="1645" y1="180.26" x2="1654.5" y2="180.26" stroke="#000" stroke-width="2" stroke-linecap="butt"/>
<text transform="translate(1660 187.56) scale(1 1.07)" font-size="26" text-anchor="start">150</text>
<line x1="1645" y1="105.6" x2="1654.5" y2="105.6" stroke="#000" stroke-width="2" stroke-linecap="butt"/>
<text transform="translate(1660 112.9) scale(1 1.07)" font-size="26" text-anchor="start">180</text>
<line x1="1645" y1="516.27" x2="1649.5" y2="516.27" stroke="#000" stroke-width="2" stroke-linecap="butt"/>
<line x1="1645" y1="441.6" x2="1649.5" y2="441.6" stroke="#000" stroke-width="2" stroke-linecap="butt"/>
<line x1="1645" y1="366.93" x2="1649.5" y2="366.93" stroke="#000" stroke-width="2" stroke-linecap="butt"/>
<line x1="1645" y1="292.27" x2="1649.5" y2="292.27" stroke="#000" stroke-width="2" stroke-linecap="butt"/>
<line x1="1645" y1="217.6" x2="1649.5" y2="217.6" stroke="#000" stroke-width="2" stroke-linecap="butt"/>
<line x1="1645" y1="142.93" x2="1649.5" y2="142.93" stroke="#000" stroke-width="2" stroke-linecap="butt"/>
<rect x="106" y="682.3" width="650" height="473.75" fill="none" stroke="#000" stroke-width="2"/>
<line x1="106" y1="1156.05" x2="106" y2="1232.2" stroke="#000" stroke-width="2" stroke-linecap="butt"/>
<line x1="756" y1="1156.05" x2="756" y2="1232.2" stroke="#000" stroke-width="2" stroke-linecap="butt"/>
<line x1="105" y1="1193.6" x2="757" y2="1193.6" stroke="#000" stroke-width="2" stroke-linecap="butt"/>
<line x1="105" y1="1232.2" x2="757" y2="1232.2" stroke="#000" stroke-width="2" stroke-linecap="butt"/>
<line x1="214.33" y1="1156.05" x2="214.33" y2="1193.6" stroke="#000" stroke-width="2" stroke-linecap="butt"/>
<line x1="322.67" y1="1156.05" x2="322.67" y2="1193.6" stroke="#000" stroke-width="2" stroke-linecap="butt"/>
<line x1="431" y1="1156.05" x2="431" y2="1232.2" stroke="#000" stroke-width="2" stroke-linecap="butt"/>
<line x1="539.33" y1="1156.05" x2="539.33" y2="1193.6" stroke="#000" stroke-width="2" stroke-linecap="butt"/>
<line x1="647.67" y1="1156.05" x2="647.67" y2="1193.6" stroke="#000" stroke-width="2" stroke-linecap="butt"/>
<text transform="translate(160.17 1182.35) scale(1 1.03)" font-size="23.6" text-anchor="middle">40 s</text>
<text transform="translate(268.5 1182.35) scale(1 1.03)" font-size="23.6" text-anchor="middle">60 s</text>
<text transform="translate(376.83 1182.35) scale(1 1.03)" font-size="23.6" text-anchor="middle">80 s</text>
<text transform="translate(485.17 1182.35) scale(1 1.03)" font-size="23.6" text-anchor="middle">10 s</text>
<text transform="translate(593.5 1182.35) scale(1 1.03)" font-size="23.6" text-anchor="middle">15 s</text>
<text transform="translate(701.83 1182.35) scale(1 1.03)" font-size="23.6" text-anchor="middle">20 s</text>
<text transform="translate(268.5 1221.9) scale(1 1.02)" font-size="23.8" text-anchor="middle">0.5 Acm<tspan font-size="17.0" dy="-9">-2</tspan></text>
<text transform="translate(593.5 1221.9) scale(1 1.02)" font-size="23.8" text-anchor="middle">2.0 Acm<tspan font-size="17.0" dy="-9">-2</tspan></text>
<line x1="96.2" y1="1156.05" x2="106" y2="1156.05" stroke="#000" stroke-width="2" stroke-linecap="butt"/>
<text transform="translate(90 1163.35) scale(1 1.07)" font-size="26" text-anchor="end">0</text>
<line x1="96.2" y1="1063.35" x2="106" y2="1063.35" stroke="#000" stroke-width="2" stroke-linecap="butt"/>
<text transform="translate(90 1070.65) scale(1 1.07)" font-size="26" text-anchor="end">20</text>
<line x1="96.2" y1="970.65" x2="106" y2="970.65" stroke="#000" stroke-width="2" stroke-linecap="butt"/>
<text transform="translate(90 977.95) scale(1 1.07)" font-size="26" text-anchor="end">40</text>
<line x1="96.2" y1="877.95" x2="106" y2="877.95" stroke="#000" stroke-width="2" stroke-linecap="butt"/>
<text transform="translate(90 885.25) scale(1 1.07)" font-size="26" text-anchor="end">60</text>
<line x1="96.2" y1="785.25" x2="106" y2="785.25" stroke="#000" stroke-width="2" stroke-linecap="butt"/>
<text transform="translate(90 792.55) scale(1 1.07)" font-size="26" text-anchor="end">80</text>
<line x1="96.2" y1="692.55" x2="106" y2="692.55" stroke="#000" stroke-width="2" stroke-linecap="butt"/>
<text transform="translate(90 699.85) scale(1 1.07)" font-size="26" text-anchor="end">100</text>
<line x1="101.5" y1="1109.7" x2="106" y2="1109.7" stroke="#000" stroke-width="2" stroke-linecap="butt"/>
<line x1="101.5" y1="1017" x2="106" y2="1017" stroke="#000" stroke-width="2" stroke-linecap="butt"/>
<line x1="101.5" y1="924.3" x2="106" y2="924.3" stroke="#000" stroke-width="2" stroke-linecap="butt"/>
<line x1="101.5" y1="831.6" x2="106" y2="831.6" stroke="#000" stroke-width="2" stroke-linecap="butt"/>
<line x1="101.5" y1="738.9" x2="106" y2="738.9" stroke="#000" stroke-width="2" stroke-linecap="butt"/>
<rect x="995" y="682.3" width="650" height="473.75" fill="none" stroke="#000" stroke-width="2"/>
<line x1="995" y1="1156.05" x2="995" y2="1231.4" stroke="#000" stroke-width="2" stroke-linecap="butt"/>
<line x1="1645" y1="1156.05" x2="1645" y2="1231.4" stroke="#000" stroke-width="2" stroke-linecap="butt"/>
<line x1="994" y1="1194" x2="1646" y2="1194" stroke="#000" stroke-width="2" stroke-linecap="butt"/>
<line x1="994" y1="1231.4" x2="1646" y2="1231.4" stroke="#000" stroke-width="2" stroke-linecap="butt"/>
<line x1="1103.33" y1="1156.05" x2="1103.33" y2="1194" stroke="#000" stroke-width="2" stroke-linecap="butt"/>
<line x1="1211.67" y1="1156.05" x2="1211.67" y2="1194" stroke="#000" stroke-width="2" stroke-linecap="butt"/>
<line x1="1320" y1="1156.05" x2="1320" y2="1231.4" stroke="#000" stroke-width="2" stroke-linecap="butt"/>
<line x1="1428.33" y1="1156.05" x2="1428.33" y2="1194" stroke="#000" stroke-width="2" stroke-linecap="butt"/>
<line x1="1536.67" y1="1156.05" x2="1536.67" y2="1194" stroke="#000" stroke-width="2" stroke-linecap="butt"/>
<text transform="translate(1049.17 1182.35) scale(1 1.03)" font-size="23.6" text-anchor="middle">40 s</text>
<text transform="translate(1157.5 1182.35) scale(1 1.03)" font-size="23.6" text-anchor="middle">60 s</text>
<text transform="translate(1265.83 1182.35) scale(1 1.03)" font-size="23.6" text-anchor="middle">80 s</text>
<text transform="translate(1374.17 1182.35) scale(1 1.03)" font-size="23.6" text-anchor="middle">10 s</text>
<text transform="translate(1482.5 1182.35) scale(1 1.03)" font-size="23.6" text-anchor="middle">15 s</text>
<text transform="translate(1590.83 1182.35) scale(1 1.03)" font-size="23.6" text-anchor="middle">20 s</text>
<text transform="translate(1157.5 1222.3) scale(1 1.02)" font-size="23.8" text-anchor="middle">0.5 Acm<tspan font-size="17.0" dy="-9">-2</tspan></text>
<text transform="translate(1482.5 1222.3) scale(1 1.02)" font-size="23.8" text-anchor="middle">2.0 Acm<tspan font-size="17.0" dy="-9">-2</tspan></text>
<line x1="985.2" y1="1156.05" x2="995" y2="1156.05" stroke="#000" stroke-width="2" stroke-linecap="butt"/>
<text transform="translate(979 1163.35) scale(1 1.07)" font-size="26" text-anchor="end">0</text>
<line x1="985.2" y1="1007.85" x2="995" y2="1007.85" stroke="#000" stroke-width="2" stroke-linecap="butt"/>
<text transform="translate(979 1015.15) scale(1 1.07)" font-size="26" text-anchor="end">10</text>
<line x1="985.2" y1="859.65" x2="995" y2="859.65" stroke="#000" stroke-width="2" stroke-linecap="butt"/>
<text transform="translate(979 866.95) scale(1 1.07)" font-size="26" text-anchor="end">20</text>
<line x1="985.2" y1="711.45" x2="995" y2="711.45" stroke="#000" stroke-width="2" stroke-linecap="butt"/>
<text transform="translate(979 718.75) scale(1 1.07)" font-size="26" text-anchor="end">30</text>
<line x1="990.5" y1="1081.95" x2="995" y2="1081.95" stroke="#000" stroke-width="2" stroke-linecap="butt"/>
<line x1="990.5" y1="933.75" x2="995" y2="933.75" stroke="#000" stroke-width="2" stroke-linecap="butt"/>
<line x1="990.5" y1="785.55" x2="995" y2="785.55" stroke="#000" stroke-width="2" stroke-linecap="butt"/>
<rect x="606" y="91.2" width="52" height="24.8" rx="1" fill="#b9cdd1"/>
<rect x="606" y="91.2" width="52" height="24.8" rx="1" fill="none" stroke="#000" stroke-width="1.35"/>
<rect x="606" y="119.9" width="52" height="25.3" rx="1" fill="#fff"/>
<path clip-path="url(#c13)" d="M557.2 147.2L660 44.4M569.8 147.2L660 57M582.4 147.2L660 69.6M595 147.2L660 82.2M607.6 147.2L660 94.8M620.2 147.2L660 107.4M632.8 147.2L660 120M645.4 147.2L660 132.6M658 147.2L660 145.2" stroke="#22687a" stroke-width="1.5" fill="none"/>
<rect x="606" y="119.9" width="52" height="25.3" rx="1" fill="none" stroke="#000" stroke-width="1.35"/>
<text x="664.7" y="110.9" font-size="23.5" text-anchor="start">Mass-<tspan font-family="Liberation Serif">&#916;</tspan></text>
<text x="664.7" y="140.1" font-size="23.5" text-anchor="start">DE</text>
<rect x="1427.6" y="91" width="52" height="25.4" rx="1" fill="#b9cdd1"/>
<rect x="1427.6" y="91" width="52" height="25.4" rx="1" fill="none" stroke="#000" stroke-width="1.35"/>
<rect x="1427.6" y="119.8" width="52" height="25.7" rx="1" fill="#fff"/>
<path clip-path="url(#c14)" d="M1378.4 147.5L1481.6 44.3M1391 147.5L1481.6 56.9M1403.6 147.5L1481.6 69.5M1416.2 147.5L1481.6 82.1M1428.8 147.5L1481.6 94.7M1441.4 147.5L1481.6 107.3M1454 147.5L1481.6 119.9M1466.6 147.5L1481.6 132.5M1479.2 147.5L1481.6 145.1" stroke="#22687a" stroke-width="1.5" fill="none"/>
<rect x="1427.6" y="119.8" width="52" height="25.7" rx="1" fill="none" stroke="#000" stroke-width="1.35"/>
<text x="1485.5" y="110.5" font-size="23.5" text-anchor="start">Contact angle</text>
<text x="1485.5" y="140" font-size="23.5" text-anchor="start">ECSA</text>
<rect x="578.6" y="695.5" width="52" height="24.8" rx="1" fill="#447882"/>
<rect x="578.6" y="695.5" width="52" height="24.8" rx="1" fill="none" stroke="#000" stroke-width="1.35"/>
<text x="636.7" y="715.9" font-size="23.5" text-anchor="start" letter-spacing="0.25">20 Ascm<tspan font-size="16.5" dy="-10">-2</tspan></text>
<rect x="578.6" y="728.1" width="52" height="24.8" rx="1" fill="#ae0000"/>
<rect x="578.6" y="728.1" width="52" height="24.8" rx="1" fill="none" stroke="#000" stroke-width="1.35"/>
<text x="636.7" y="748.4" font-size="23.5" text-anchor="start" letter-spacing="0.25">30 Ascm<tspan font-size="16.5" dy="-10">-2</tspan></text>
<rect x="578.6" y="760.7" width="52" height="24.8" rx="1" fill="#ff7f26"/>
<rect x="578.6" y="760.7" width="52" height="24.8" rx="1" fill="none" stroke="#000" stroke-width="1.35"/>
<text x="636.7" y="780.9" font-size="23.5" text-anchor="start" letter-spacing="0.25">40 Ascm<tspan font-size="16.5" dy="-10">-2</tspan></text>
<rect x="1467.2" y="695.5" width="52" height="24.8" rx="1" fill="#447882"/>
<rect x="1467.2" y="695.5" width="52" height="24.8" rx="1" fill="none" stroke="#000" stroke-width="1.35"/>
<text x="1525.4" y="715.9" font-size="23.5" text-anchor="start" letter-spacing="0.25">20 Ascm<tspan font-size="16.5" dy="-10">-2</tspan></text>
<rect x="1467.2" y="728.1" width="52" height="24.8" rx="1" fill="#ae0000"/>
<rect x="1467.2" y="728.1" width="52" height="24.8" rx="1" fill="none" stroke="#000" stroke-width="1.35"/>
<text x="1525.4" y="748.4" font-size="23.5" text-anchor="start" letter-spacing="0.25">30 Ascm<tspan font-size="16.5" dy="-10">-2</tspan></text>
<rect x="1467.2" y="760.7" width="52" height="24.8" rx="1" fill="#ff7f26"/>
<rect x="1467.2" y="760.7" width="52" height="24.8" rx="1" fill="none" stroke="#000" stroke-width="1.35"/>
<text x="1525.4" y="780.9" font-size="23.5" text-anchor="start" letter-spacing="0.25">40 Ascm<tspan font-size="16.5" dy="-10">-2</tspan></text>
<text x="0" y="0" font-size="32.1" text-anchor="middle" transform="translate(49 317) rotate(-90)">Mass-<tspan font-family="Liberation Serif">&#916;</tspan> [mg]</text>
<text x="0" y="0" font-size="32" text-anchor="middle" transform="translate(834.6 315.5) rotate(-90)">Deposition efficiency<tspan font-size="21.5" dy="9">Ag</tspan><tspan dy="-9"> [%]</tspan></text>
<text x="0" y="0" font-size="32.4" text-anchor="middle" transform="translate(922.2 316.2) rotate(-90)">Contact angle [&#176;]</text>
<text x="0" y="0" font-size="32.4" text-anchor="middle" transform="translate(1740.5 316.9) rotate(-90)">ECSA [cm&#178;]</text>
<text x="0" y="0" font-size="32.4" text-anchor="middle" transform="translate(35 917.7) rotate(-90)">spec. ECSA [cm&#178;mg<tspan font-size="22.5" dy="-14">-1</tspan><tspan dy="14">]</tspan></text>
<text x="0" y="0" font-size="32.4" text-anchor="middle" transform="translate(930.1 919) rotate(-90)">Decrease in ECSA [%]</text>
<text x="-1.7" y="44.9" font-size="60" text-anchor="start" letter-spacing="2.5">a)</text>
<text x="908.4" y="44.6" font-size="60" text-anchor="start" letter-spacing="2.5">b)</text>
<text x="-1.8" y="667.4" font-size="60" text-anchor="start" letter-spacing="2.5">c)</text>
<text x="907.9" y="667.4" font-size="60" text-anchor="start" letter-spacing="2.5">d)</text>
</svg>
</body></html>
